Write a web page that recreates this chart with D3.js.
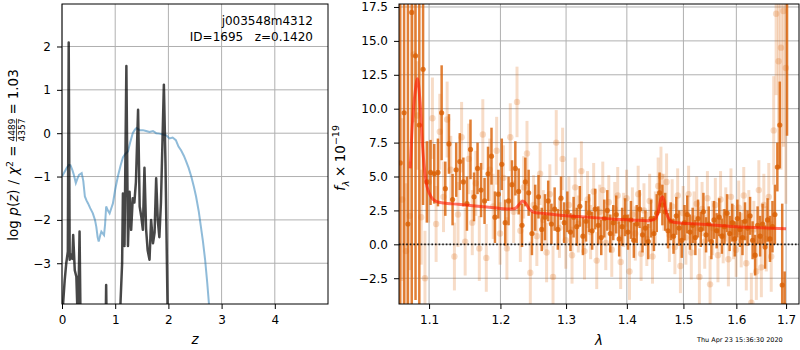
<!DOCTYPE html>
<html>
<head>
<meta charset="utf-8">
<title>j003548m4312 fit</title>
<script src="https://cdn.jsdelivr.net/npm/d3@7"></script>
<style>
	body { margin: 0; background: #fff; }
	svg { font-family: "DejaVu Sans", sans-serif; }
</style>
</head>
<body>
<script>

	// ---- left panel: log p(z) (black) and chi2 curve (blue), [z, value]
	var pzCurve = [
		[0.00,-4.3],[0.05,-3.4],[0.08,-3.0],[0.11,-2.73],[0.126,2.09],[0.145,-2.92],[0.17,-2.8],
		[0.195,-2.9],[0.21,-2.35],[0.24,-3.16],[0.27,-3.31],[0.30,-4.5],[0.33,-2.27],[0.35,-4.5],
		[0.82,-4.5],[0.83,-3.5],[0.84,-4.5],[1.08,-4.5],[1.10,-3.9],[1.13,-3.0],[1.145,-1.39],
		[1.175,-2.6],[1.21,1.55],[1.24,-2.6],[1.27,-1.35],[1.30,-2.23],[1.33,-1.5],[1.36,-1.6],
		[1.39,-1.12],[1.43,0.54],[1.46,-1.69],[1.49,-1.92],[1.52,-2.23],[1.55,-0.8],[1.58,-2.2],
		[1.61,-2.7],[1.645,-2.92],[1.675,-2.0],[1.71,-2.54],[1.74,-2.3],[1.77,-1.04],[1.80,-2.0],
		[1.83,-2.4],[1.86,-1.6],[1.915,1.12],[1.945,-0.69],[1.99,-4.5]
	];
	var chi2Curve = [
		[0.00,-1.00],[0.05,-0.89],[0.09,-0.80],[0.13,-0.73],[0.16,-0.74],[0.195,-0.85],[0.22,-0.95],
		[0.26,-1.15],[0.29,-1.05],[0.32,-0.96],[0.37,-0.92],[0.40,-1.10],[0.43,-1.46],[0.46,-1.55],
		[0.49,-1.62],[0.53,-1.73],[0.58,-1.85],[0.62,-2.00],[0.645,-2.16],[0.67,-2.40],[0.69,-2.50],
		[0.72,-2.35],[0.74,-2.27],[0.79,-2.35],[0.81,-2.10],[0.83,-1.69],[0.86,-1.78],[0.895,-1.85],
		[0.93,-1.72],[0.957,-1.62],[1.00,-1.30],[1.05,-1.00],[1.10,-0.75],[1.145,-0.56],[1.19,-0.48],
		[1.24,-0.42],[1.28,-0.22],[1.33,0.00],[1.37,0.08],[1.40,0.12],[1.46,0.07],[1.52,0.07],
		[1.58,0.05],[1.645,0.03],[1.71,0.05],[1.77,0.00],[1.83,-0.01],[1.89,-0.03],[1.96,-0.05],
		[2.02,-0.12],[2.08,-0.10],[2.14,-0.16],[2.19,-0.31],[2.24,-0.40],[2.29,-0.52],[2.33,-0.64],
		[2.38,-0.80],[2.43,-1.00],[2.48,-1.24],[2.52,-1.46],[2.57,-1.80],[2.61,-2.15],[2.65,-2.50],
		[2.69,-2.92],[2.73,-3.45],[2.77,-4.05]
	];
	var zTicks = [0, 1, 2, 3, 4];
	var pTicks = [-3, -2, -1, 0, 1, 2];

	// ---- right panel: spectrum, [lambda, flux, err]
	var specMain = [
		[1.062,6.0,40],[1.067,9.7,30],[1.072,1.5,25],[1.077,17.1,22],[1.082,13.9,18],
		[1.087,8.8,14],[1.092,12.9,10],[1.097,4.6,3.0],[1.102,5.3,2.4],[1.107,5.2,2.2],
		[1.112,5.3,2.5],[1.117,9.7,3.5],[1.122,4.1,2.0],[1.127,7.4,2.2],[1.132,3.3,1.9],
		[1.137,5.5,2.0],[1.142,6.1,2.1],[1.147,4.6,1.8],[1.152,3.0,2.0],[1.157,7.0,2.2],
		[1.162,3.5,1.8],[1.167,5.6,1.9],[1.172,4.0,2.0],[1.177,3.2,1.7],[1.182,5.2,2.0],
		[1.187,6.5,2.1],[1.192,2.0,1.9],[1.197,3.7,1.8],[1.202,5.9,1.9],[1.207,1.6,1.7],
		[1.212,3.2,1.8],[1.217,4.4,1.8],[1.222,5.6,2.0],[1.227,3.9,1.7],[1.232,1.4,1.6],
		[1.237,4.6,1.8],[1.242,3.8,1.7],[1.247,0.8,1.6],[1.252,2.7,1.7],[1.257,3.5,1.6],
		[1.262,1.1,1.6],[1.267,2.0,1.7],[1.272,3.2,1.5],[1.277,1.5,1.5],[1.282,2.6,1.6],
		[1.287,1.1,1.5],[1.292,3.4,1.6],[1.297,1.6,1.5],[1.302,2.4,1.5],[1.307,0.9,1.4],
		[1.312,2.0,1.5],[1.317,1.3,1.4],[1.322,2.8,1.5],[1.327,0.6,1.4],[1.332,1.7,1.5],
		[1.337,2.3,1.4],[1.342,1.0,1.4],[1.347,2.6,1.5],[1.352,1.4,1.4],[1.357,0.5,1.3],
		[1.362,1.9,1.4],[1.367,2.5,1.5],[1.372,0.8,1.4],[1.377,1.6,1.3],[1.382,2.2,1.4],
		[1.387,0.4,1.3],[1.392,1.3,1.4],[1.397,2.0,1.4],[1.402,0.9,1.3],[1.407,1.8,1.4],
		[1.412,0.3,1.3],[1.417,1.5,1.4],[1.422,2.6,1.4],[1.427,0.7,1.3],[1.432,1.2,1.3],
		[1.437,0.2,1.3],[1.442,1.9,1.4],[1.447,0.8,1.3],[1.452,2.3,1.4],[1.457,3.8,1.5],
		[1.462,2.9,1.5],[1.467,2.4,1.4],[1.472,1.0,1.3],[1.477,1.7,1.4],[1.482,0.6,1.3],
		[1.487,2.1,1.4],[1.492,1.2,1.3],[1.497,0.3,1.3],[1.502,1.6,1.3],[1.507,2.2,1.4],
		[1.512,0.9,1.3],[1.517,1.4,1.3],[1.522,0.5,1.3],[1.527,1.9,1.4],[1.532,1.1,1.3],
		[1.537,2.4,1.4],[1.542,0.7,1.3],[1.547,1.5,1.3],[1.552,0.2,1.3],[1.557,1.8,1.4],
		[1.562,1.0,1.3],[1.567,2.0,1.4],[1.572,0.6,1.3],[1.577,1.3,1.3],[1.582,2.3,1.4],
		[1.587,0.8,1.3],[1.592,1.6,1.4],[1.597,0.4,1.3],[1.602,1.9,1.4],[1.607,1.1,1.3],
		[1.612,0.5,1.3],[1.617,1.7,1.4],[1.622,1.2,1.3],[1.627,2.1,1.4],[1.632,0.3,1.4],
		[1.637,-0.8,1.5],[1.642,1.4,1.4],[1.647,0.6,1.5],[1.652,1.5,1.5],[1.657,-0.2,1.6],
		[1.662,1.8,1.6],[1.667,0.4,1.7],[1.672,1.3,1.9],[1.677,2.2,2.2],[1.682,5.7,1.8],
		[1.687,8.8,3.2],[1.692,-3.0,6.0],[1.697,-4.5,2.5],[1.702,22.0,14.0]
	];
	var specFaint = [
		[1.0645,3.3,6],[1.0695,-0.5,5],[1.0745,2.1,4],[1.0795,14.0,5],[1.0845,9.5,4],
		[1.0895,2.0,3.5],[1.0945,-2.5,3.5],[1.0995,4.6,3],[1.1045,9.3,3],[1.1095,1.5,2.8],
		[1.1145,8.3,2.8],[1.1195,3.5,2.6],[1.1245,9.2,2.8],[1.1295,5.5,2.5],[1.1345,-0.9,2.5],
		[1.1395,2.2,2.4],[1.1445,7.9,2.6],[1.1495,0.2,2.5],[1.1545,6.3,2.6],[1.1595,1.6,2.4],
		[1.1645,4.5,2.4],[1.1695,-0.3,2.4],[1.1745,8.1,2.6],[1.1795,-1.0,2.5],[1.1845,5.5,2.3],
		[1.1895,2.8,2.4],[1.1945,6.9,2.5],[1.1995,0.8,2.3],[1.2045,4.9,2.4],[1.2095,-0.3,2.3],
		[1.2145,7.9,2.5],[1.2195,2.4,2.3],[1.2245,10.5,2.6],[1.2295,1.0,2.3],[1.2345,4.2,2.3],
		[1.2395,6.7,2.4],[1.2445,-2.1,2.3],[1.2495,2.9,2.2],[1.2545,0.6,2.2],[1.2595,5.2,2.3],
		[1.2645,1.8,2.2],[1.2695,-0.6,2.2],[1.2745,3.7,2.2],[1.2795,-2.4,2.3],[1.2845,7.5,2.4],
		[1.2895,1.2,2.2],[1.2945,6.3,2.3],[1.2995,0.3,2.1],[1.3045,2.9,2.1],[1.3095,-0.8,2.1],
		[1.3145,4.2,2.2],[1.3195,1.5,2.1],[1.3245,5.4,2.2],[1.3295,-0.5,2.1],[1.3345,3.3,2.1],
		[1.3395,0.9,2.0],[1.3445,3.9,2.1],[1.3495,-1.2,2.1],[1.3545,2.4,2.0],[1.3595,4.0,2.1],
		[1.3645,0.1,2.0],[1.3695,3.1,2.0],[1.3745,-0.4,2.0],[1.3795,2.6,2.0],[1.3845,3.6,2.1],
		[1.3895,-1.3,2.0],[1.3945,1.8,2.0],[1.3995,3.4,2.1],[1.4045,-2.0,2.1],[1.4095,2.2,2.0],
		[1.4145,0.8,2.0],[1.4195,3.7,2.1],[1.4245,-0.7,2.0],[1.4295,2.5,2.0],[1.4345,0.4,2.0],
		[1.4395,3.2,2.0],[1.4445,-0.9,2.0],[1.4495,1.9,2.0],[1.4545,4.3,2.1],[1.4595,5.0,2.2],
		[1.4645,3.1,2.1],[1.4695,4.6,2.1],[1.4745,0.7,2.0],[1.4795,2.8,2.0],[1.4845,-0.2,2.0],
		[1.4895,3.6,2.0],[1.4945,-1.6,2.0],[1.4995,2.3,2.0],[1.5045,0.5,2.0],[1.5095,3.7,2.1],
		[1.5145,-0.6,2.0],[1.5195,1.9,2.0],[1.5245,3.0,2.0],[1.5295,-2.4,2.1],[1.5345,2.6,2.0],
		[1.5395,0.2,2.0],[1.5445,3.4,2.0],[1.5495,-2.95,2.1],[1.5545,1.2,2.0],[1.5595,2.9,2.0],
		[1.5645,-0.8,2.0],[1.5695,3.3,2.1],[1.5745,0.6,2.0],[1.5795,2.2,2.0],[1.5845,-1.1,2.0],
		[1.5895,3.5,2.1],[1.5945,0.9,2.0],[1.5995,-0.4,2.0],[1.6045,2.7,2.0],[1.6095,0.3,2.0],
		[1.6145,3.6,2.1],[1.6195,-1.4,2.0],[1.6245,2.0,2.0],[1.6295,-4.3,2.2],[1.6345,1.1,2.1],
		[1.6395,-2.0,2.1],[1.6445,4.0,2.2],[1.6495,-1.7,2.2],[1.6545,2.9,2.3],[1.6595,0.4,2.4],
		[1.6645,3.5,2.5],[1.6695,-0.9,2.6],[1.6745,8.4,4],[1.6795,17.0,6],[1.6845,13.5,8],
		[1.6895,14.5,9],[1.6945,17.2,10],[1.6995,13.0,10]
	];
	// best-fit template
	var specModel = [
		[1.075,5.6],[1.078,9.0],[1.081,11.0],[1.0845,12.2],[1.088,10.5],[1.091,7.5],[1.094,5.5],
		[1.097,4.3],[1.100,3.8],[1.104,3.4],[1.110,3.15],[1.120,3.05],[1.140,2.95],[1.160,2.85],
		[1.180,2.75],[1.200,2.65],[1.215,2.6],[1.222,2.65],[1.228,2.95],[1.233,3.2],[1.238,3.0],
		[1.243,2.6],[1.250,2.35],[1.260,2.3],[1.280,2.2],[1.300,2.1],[1.320,2.05],[1.350,1.95],
		[1.380,1.85],[1.410,1.8],[1.440,1.75],[1.450,1.9],[1.455,2.5],[1.460,3.4],[1.4625,3.5],
		[1.466,3.0],[1.470,2.2],[1.475,1.8],[1.480,1.65],[1.500,1.55],[1.550,1.45],[1.600,1.3],
		[1.650,1.22],[1.700,1.15]
	];
	var lamTicks = [1.1, 1.2, 1.3, 1.4, 1.5, 1.6, 1.7];
	var fluxTicks = [-2.5, 0, 2.5, 5, 7.5, 10, 12.5, 15, 17.5];

	var width = 800;
	var height = 350;
	var orange = "#d95f02";

	var svg = d3.select("body").append("svg")
		.attr("width", width)
		.attr("height", height);

	// panel boxes
	var L = {x0: 62, x1: 328, y0: 4, y1: 304};
	var R = {x0: 399, x1: 799, y0: 4, y1: 304};

	var xz = d3.scaleLinear().domain([0, 5]).range([L.x0, L.x1]);
	var yp = d3.scaleLinear().domain([-3.94, 2.98]).range([L.y1, L.y0]);
	var xl = d3.scaleLog().domain([1.0604, 1.727]).range([R.x0, R.x1]);
	var yf = d3.scaleLinear().domain([-4.4, 17.72]).range([R.y1, R.y0]);

	function clip(id, b) {
		svg.append("clipPath").attr("id", id).append("rect")
			.attr("x", b.x0).attr("y", b.y0)
			.attr("width", b.x1 - b.x0).attr("height", b.y1 - b.y0);
	}
	clip("clipL", L);
	clip("clipR", R);

	function grid(b, xs, xv, ys, yv) {
		var g = svg.append("g").attr("stroke", "#b0b0b0").attr("stroke-width", 1);
		xv.forEach(function(v) {
			g.append("line").attr("x1", xs(v)).attr("x2", xs(v)).attr("y1", b.y0).attr("y2", b.y1);
		});
		yv.forEach(function(v) {
			g.append("line").attr("y1", ys(v)).attr("y2", ys(v)).attr("x1", b.x0).attr("x2", b.x1);
		});
	}
	grid(L, xz, zTicks, yp, pTicks);
	grid(R, xl, lamTicks, yf, fluxTicks);

	function axes(b, xs, xv, xf, ys, yv, yf_) {
		var gx = svg.append("g").attr("transform", "translate(0," + b.y1 + ")")
			.call(d3.axisBottom(xs).tickValues(xv).tickFormat(xf).tickSize(5).tickPadding(6));
		var gy = svg.append("g").attr("transform", "translate(" + b.x0 + ",0)")
			.call(d3.axisLeft(ys).tickValues(yv).tickFormat(yf_).tickSize(5).tickPadding(6));
		[gx, gy].forEach(function(g) {
			g.select(".domain").remove();
			g.attr("font-family", null).attr("font-size", null);
			g.selectAll("text").style("font-size", "12px").attr("fill", "#000");
			g.selectAll("line").attr("stroke", "#000").attr("stroke-width", 1);
		});
		svg.append("rect")
			.attr("x", b.x0).attr("y", b.y0)
			.attr("width", b.x1 - b.x0).attr("height", b.y1 - b.y0)
			.attr("fill", "none").attr("stroke", "#000").attr("stroke-width", 1);
	}

	// ---- left panel
	var line = d3.line().x(function(d) { return xz(d[0]); }).y(function(d) { return yp(d[1]); });
	var gl = svg.append("g").attr("clip-path", "url(#clipL)");
	gl.append("path").attr("d", line(chi2Curve))
		.attr("fill", "none").attr("stroke", "#1f77b4").attr("stroke-opacity", 0.5)
		.attr("stroke-width", 2);
	gl.append("path").attr("d", line(pzCurve))
		.attr("fill", "none").attr("stroke", "#000").attr("stroke-opacity", 0.72)
		.attr("stroke-width", 2.5).attr("stroke-linejoin", "round");

	axes(L, xz, zTicks, d3.format("d"), yp, pTicks, d3.format("d"));

	svg.append("text").attr("x", 313).attr("y", 25).attr("text-anchor", "end")
		.style("font-size", "12px").text("j003548m4312");
	svg.append("text").attr("x", 313).attr("y", 41).attr("text-anchor", "end")
		.style("font-size", "12px").style("white-space", "pre").text("ID=1695   z=0.1420");

	svg.append("text").attr("x", (L.x0 + L.x1) / 2).attr("y", 344).attr("text-anchor", "middle")
		.style("font-size", "13.5px").style("font-style", "italic").text("z");

	// ---- right panel
	var gr = svg.append("g").attr("clip-path", "url(#clipR)");

	function errbars(data, col, op, bw, r) {
		var g = gr.append("g");
		g.selectAll("line").data(data).enter().append("line")
			.attr("x1", function(d) { return xl(d[0]); })
			.attr("x2", function(d) { return xl(d[0]); })
			.attr("y1", function(d) { return yf(d[1] - d[2]); })
			.attr("y2", function(d) { return yf(d[1] + d[2]); })
			.attr("stroke", col).attr("stroke-opacity", op).attr("stroke-width", bw);
		g.selectAll("circle").data(data).enter().append("circle")
			.attr("cx", function(d) { return xl(d[0]); })
			.attr("cy", function(d) { return yf(d[1]); })
			.attr("r", r).attr("fill", col).attr("fill-opacity", op);
	}
	errbars(specFaint, orange, 0.22, 3, 3.2);
	errbars(specMain, orange, 0.8, 2.5, 2.6);

	gr.append("line").attr("x1", R.x0).attr("x2", R.x1).attr("y1", yf(0)).attr("y2", yf(0))
		.attr("stroke", "#000").attr("stroke-opacity", 0.85).attr("stroke-width", 1.6)
		.attr("stroke-dasharray", "1.6,2");

	var mline = d3.line().curve(d3.curveCatmullRom)
		.x(function(d) { return xl(d[0]); }).y(function(d) { return yf(d[1]); });
	gr.append("path").attr("d", mline(specModel))
		.attr("fill", "none").attr("stroke", "#ff1500").attr("stroke-opacity", 0.6)
		.attr("stroke-width", 3).attr("stroke-linejoin", "round");

	axes(R, xl, lamTicks, d3.format(".1f"), yf, fluxTicks, d3.format(".1f"));

	svg.append("text").attr("x", (R.x0 + R.x1) / 2).attr("y", 345).attr("text-anchor", "middle")
		.style("font-size", "13.5px").style("font-style", "italic").text("λ");

	svg.append("text").attr("x", 697).attr("y", 342)
		.style("font-size", "6.5px").text("Thu Apr 23 15:36:30 2020");

	// ---- rotated math labels, laid out piece by piece
	function mathLabel(cx, cy, pieces) {
		var g = svg.append("g");
		var x = 0;
		pieces.forEach(function(p) {
			if (p.gap) { x += p.gap; return; }
			if (p.num) {
				var fs = 9;
				var n = g.append("text").attr("y", -3.5).style("font-size", fs + "px").text(p.num);
				var d = g.append("text").attr("y", 7).style("font-size", fs + "px").text(p.den);
				var w = Math.max(n.node().getComputedTextLength(), d.node().getComputedTextLength());
				n.attr("x", x + 1 + (w - n.node().getComputedTextLength()) / 2);
				d.attr("x", x + 1 + (w - d.node().getComputedTextLength()) / 2);
				g.append("line").attr("x1", x + 1).attr("x2", x + 1 + w).attr("y1", -1.5).attr("y2", -1.5)
					.attr("stroke", "#000").attr("stroke-width", 0.7);
				x += w + 2;
				return;
			}
			var t = g.append("text").attr("x", x).attr("y", p.dy || 0)
				.style("font-size", (p.size || 13.5) + "px")
				.style("font-style", p.it ? "italic" : "normal")
				.text(p.t);
			x += t.node().getComputedTextLength();
		});
		g.attr("transform", "translate(" + cx + "," + cy + ") rotate(-90) translate(" + (-x / 2) + ",0)");
	}

	mathLabel(18, 155, [
		{t: "log"}, {gap: 4.5}, {t: "p", it: true}, {t: "("}, {t: "z", it: true}, {t: ")"},
		{gap: 5}, {t: "/"}, {gap: 5}, {t: "χ", it: true}, {t: "2", size: 9.5, dy: -5.5},
		{gap: 4}, {t: "="}, {gap: 3}, {num: "4489", den: "4357"}, {gap: 3},
		{t: "="}, {gap: 4}, {t: "1.03"}
	]);

	mathLabel(345, 158, [
		{t: "f", it: true}, {t: "λ", it: true, size: 9.5, dy: 3.5}, {gap: 3.5},
		{t: "×"}, {gap: 3.5}, {t: "10"}, {t: "−19", size: 9.5, dy: -6}
	]);

</script>
</body>
</html>
